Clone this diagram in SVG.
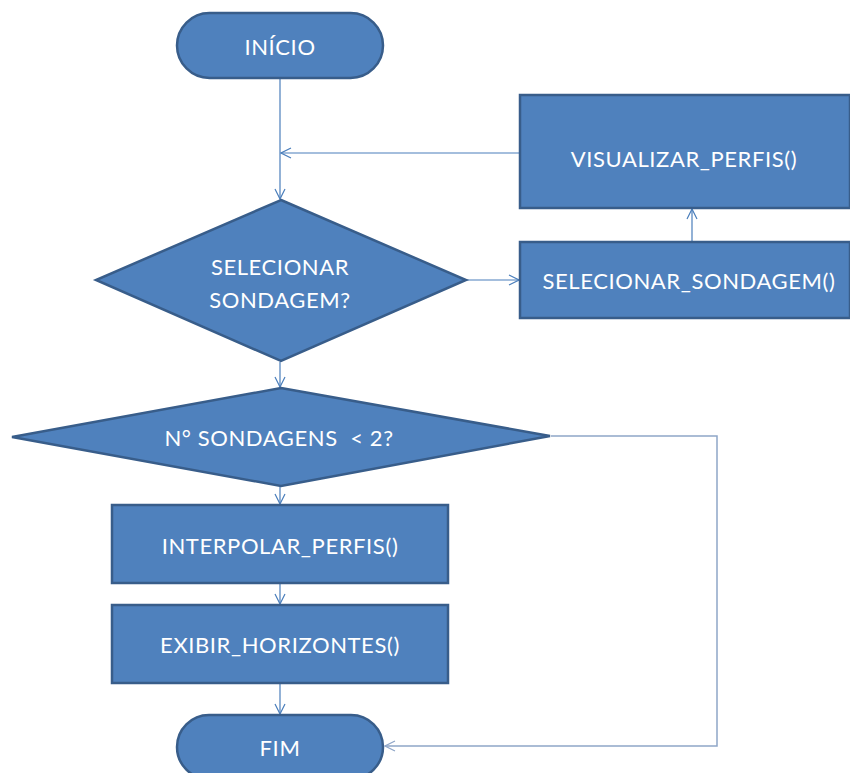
<svg xmlns="http://www.w3.org/2000/svg" width="850" height="773" viewBox="0 0 850 773">
  <defs>
    <marker id="open-arrow" viewBox="0 0 12 12" refX="11" refY="6" markerWidth="12" markerHeight="12" markerUnits="userSpaceOnUse" orient="auto">
      <path d="M1,1 L11,6 L1,11" fill="none" stroke="#4A7EBB" stroke-width="1.2"/>
    </marker>
    <marker id="open-arrow-grey" viewBox="0 0 12 12" refX="11" refY="6" markerWidth="12" markerHeight="12" markerUnits="userSpaceOnUse" orient="auto">
      <path d="M1,1 L11,6 L1,11" fill="none" stroke="#8FA6C8" stroke-width="1.2"/>
    </marker>
  </defs>
  <style>
    .shape { fill: #4F81BD; stroke: #385D8A; stroke-width: 2.5; }
    .label { fill: #FFFFFF; font-family: Lato, "Liberation Sans", sans-serif; font-size: 22px; letter-spacing: 0.6px; text-anchor: middle; dominant-baseline: central; }
    .edge { fill: none; stroke: #4A7EBB; stroke-width: 1.2; }
    .edge-grey { fill: none; stroke: #8FA6C8; stroke-width: 1.5; }
  </style>
  <rect width="850" height="773" fill="#FFFFFF"/>

  <g id="connectors">
    <path class="edge" d="M280,79 L280,199" marker-end="url(#open-arrow)"/>
    <path class="edge" d="M519,153 L281,153" marker-end="url(#open-arrow)"/>
    <path class="edge" d="M467,280 L519,280" marker-end="url(#open-arrow)"/>
    <path class="edge" d="M692,241 L692,209" marker-end="url(#open-arrow)"/>
    <path class="edge" d="M280,362 L280,387" marker-end="url(#open-arrow)"/>
    <path class="edge" d="M280,487 L280,504" marker-end="url(#open-arrow)"/>
    <path class="edge" d="M280,584 L280,604" marker-end="url(#open-arrow)"/>
    <path class="edge" d="M280,684 L280,714" marker-end="url(#open-arrow)"/>
    <path class="edge-grey" d="M551,436 L717,436 L717,746 L385,746" marker-end="url(#open-arrow-grey)"/>
  </g>

  <g id="inicio">
    <rect class="shape" x="177" y="13" width="206" height="65" rx="32.5"/>
    <text class="label" x="280" y="46">INÍCIO</text>
  </g>

  <g id="visualizar-perfis">
    <rect class="shape" x="520" y="95" width="330" height="113"/>
    <text class="label" x="684" y="158">VISUALIZAR_PERFIS()</text>
  </g>

  <g id="selecionar-sondagem-decisao">
    <polygon class="shape" points="281,200 466,280 281,361 96,280"/>
    <text class="label" x="280" y="266">SELECIONAR</text>
    <text class="label" x="280" y="299">SONDAGEM?</text>
  </g>

  <g id="selecionar-sondagem">
    <rect class="shape" x="520" y="242" width="330" height="76"/>
    <text class="label" x="689" y="280">SELECIONAR_SONDAGEM()</text>
  </g>

  <g id="numero-sondagens">
    <polygon class="shape" points="281,388 550,436 281,486 12,437"/>
    <text class="label" x="279" y="437" xml:space="preserve">N° SONDAGENS  &lt; 2?</text>
  </g>

  <g id="interpolar-perfis">
    <rect class="shape" x="112" y="505" width="336" height="78"/>
    <text class="label" x="280" y="545">INTERPOLAR_PERFIS()</text>
  </g>

  <g id="exibir-horizontes">
    <rect class="shape" x="112" y="605" width="336" height="78"/>
    <text class="label" x="280" y="644">EXIBIR_HORIZONTES()</text>
  </g>

  <g id="fim">
    <rect class="shape" x="177" y="715" width="206" height="64" rx="32"/>
    <text class="label" x="280" y="747">FIM</text>
  </g>
</svg>
